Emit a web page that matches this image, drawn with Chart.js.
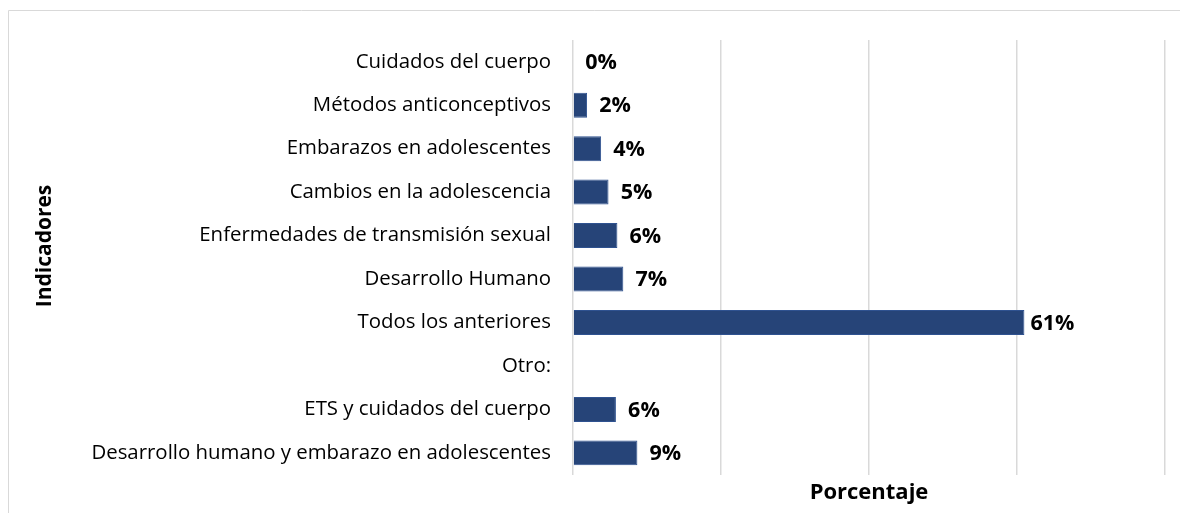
<!DOCTYPE html>
<html>
<head>
<meta charset="utf-8">
<script src="https://cdn.jsdelivr.net/npm/chart.js@4"></script>
<style>
  html, body { margin: 0; padding: 0; background: #fff; }
  #wrap { position: relative; width: 1180px; height: 513px; }
</style>
</head>
<body>
<div id="wrap"><canvas id="myBarChart"></canvas></div>
<script>
// categorías (de arriba hacia abajo)
const categories = [
    'Cuidados del cuerpo',
    'Métodos anticonceptivos',
    'Embarazos en adolescentes',
    'Cambios en la adolescencia',
    'Enfermedades de transmisión sexual',
    'Desarrollo Humano',
    'Todos los anteriores',
    'Otro:',
    'ETS y cuidados del cuerpo',
    'Desarrollo humano y embarazo en adolescentes'
];

// porcentajes
const percentages = [0, 1.9, 3.8, 4.8, 6.0, 6.8, 61.0, null, 5.8, 8.7];

const xTicks = [0, 20, 40, 60, 80];

const FONT = '"Open Sans", Lato, sans-serif';

// marco gris claro
const framePlugin = {
    id: 'frame',
    beforeDraw(chart) {
        const ctx = chart.ctx;
        ctx.save();
        ctx.strokeStyle = '#d9d9d9';
        ctx.lineWidth = 1;
        ctx.beginPath();
        ctx.moveTo(8.5, chart.height);
        ctx.lineTo(8.5, 10.5);
        ctx.lineTo(chart.width, 10.5);
        ctx.stroke();
        ctx.restore();
    }
};

// etiquetas de datos al final de cada barra
const valueLabels = {
    id: 'valueLabels',
    afterDatasetsDraw(chart) {
        const ctx = chart.ctx;
        const meta = chart.getDatasetMeta(0);
        ctx.save();
        ctx.font = 'bold 21.5px ' + FONT;
        ctx.fillStyle = '#000';
        ctx.textAlign = 'center';
        ctx.textBaseline = 'middle';
        meta.data.forEach(function(bar, i) {
            const v = percentages[i];
            if (v === null) return;
            ctx.fillText(Math.round(v) + '%', bar.x + 28, bar.y + 1);
        });
        ctx.restore();
    }
};

// título del eje vertical
const yTitle = {
    id: 'yTitle',
    afterDraw(chart) {
        const ctx = chart.ctx;
        ctx.save();
        ctx.translate(45, 246);
        ctx.rotate(-Math.PI / 2);
        ctx.font = 'bold 21px ' + FONT;
        ctx.fillStyle = '#000';
        ctx.textAlign = 'center';
        ctx.textBaseline = 'middle';
        ctx.fillText('Indicadores', 0, 0);
        ctx.restore();
    }
};

const ctx = document.getElementById('myBarChart').getContext('2d');

const data = {
    labels: categories,
    datasets: [{
        label: 'Porcentaje',
        data: percentages,
        backgroundColor: '#264478',
        borderColor: '#2f5290',
        borderWidth: 1,
        categoryPercentage: 1,
        barPercentage: 0.575
    }]
};

const config = {
    type: 'bar',
    data: data,
    options: {
        indexAxis: 'y',
        responsive: true,
        maintainAspectRatio: false,
        animation: false,
        layout: { padding: { top: 40, right: 15, bottom: 0, left: 0 } },
        plugins: {
            legend: { display: false },
            tooltip: { enabled: false }
        },
        scales: {
            x: {
                min: xTicks[0],
                max: xTicks[xTicks.length - 1],
                afterBuildTicks(scale) {
                    scale.ticks = xTicks.map(v => ({ value: v }));
                },
                ticks: { display: false },
                grid: { color: '#d9d9d9', lineWidth: 1.5, drawTicks: false },
                border: { display: false },
                title: {
                    display: true,
                    text: 'Porcentaje',
                    color: '#000',
                    font: { family: FONT, size: 22, weight: 'bold' },
                    padding: { top: 5, bottom: 7 }
                }
            },
            y: {
                afterFit(scale) { scale.width = 573; },
                grid: { display: false, drawTicks: false },
                border: { display: false },
                ticks: {
                    color: '#000',
                    padding: 22,
                    font: { family: FONT, size: 20.4 }
                }
            }
        }
    },
    plugins: [framePlugin, valueLabels, yTitle]
};

const myBarChart = new Chart(ctx, config);
</script>
</body>
</html>
